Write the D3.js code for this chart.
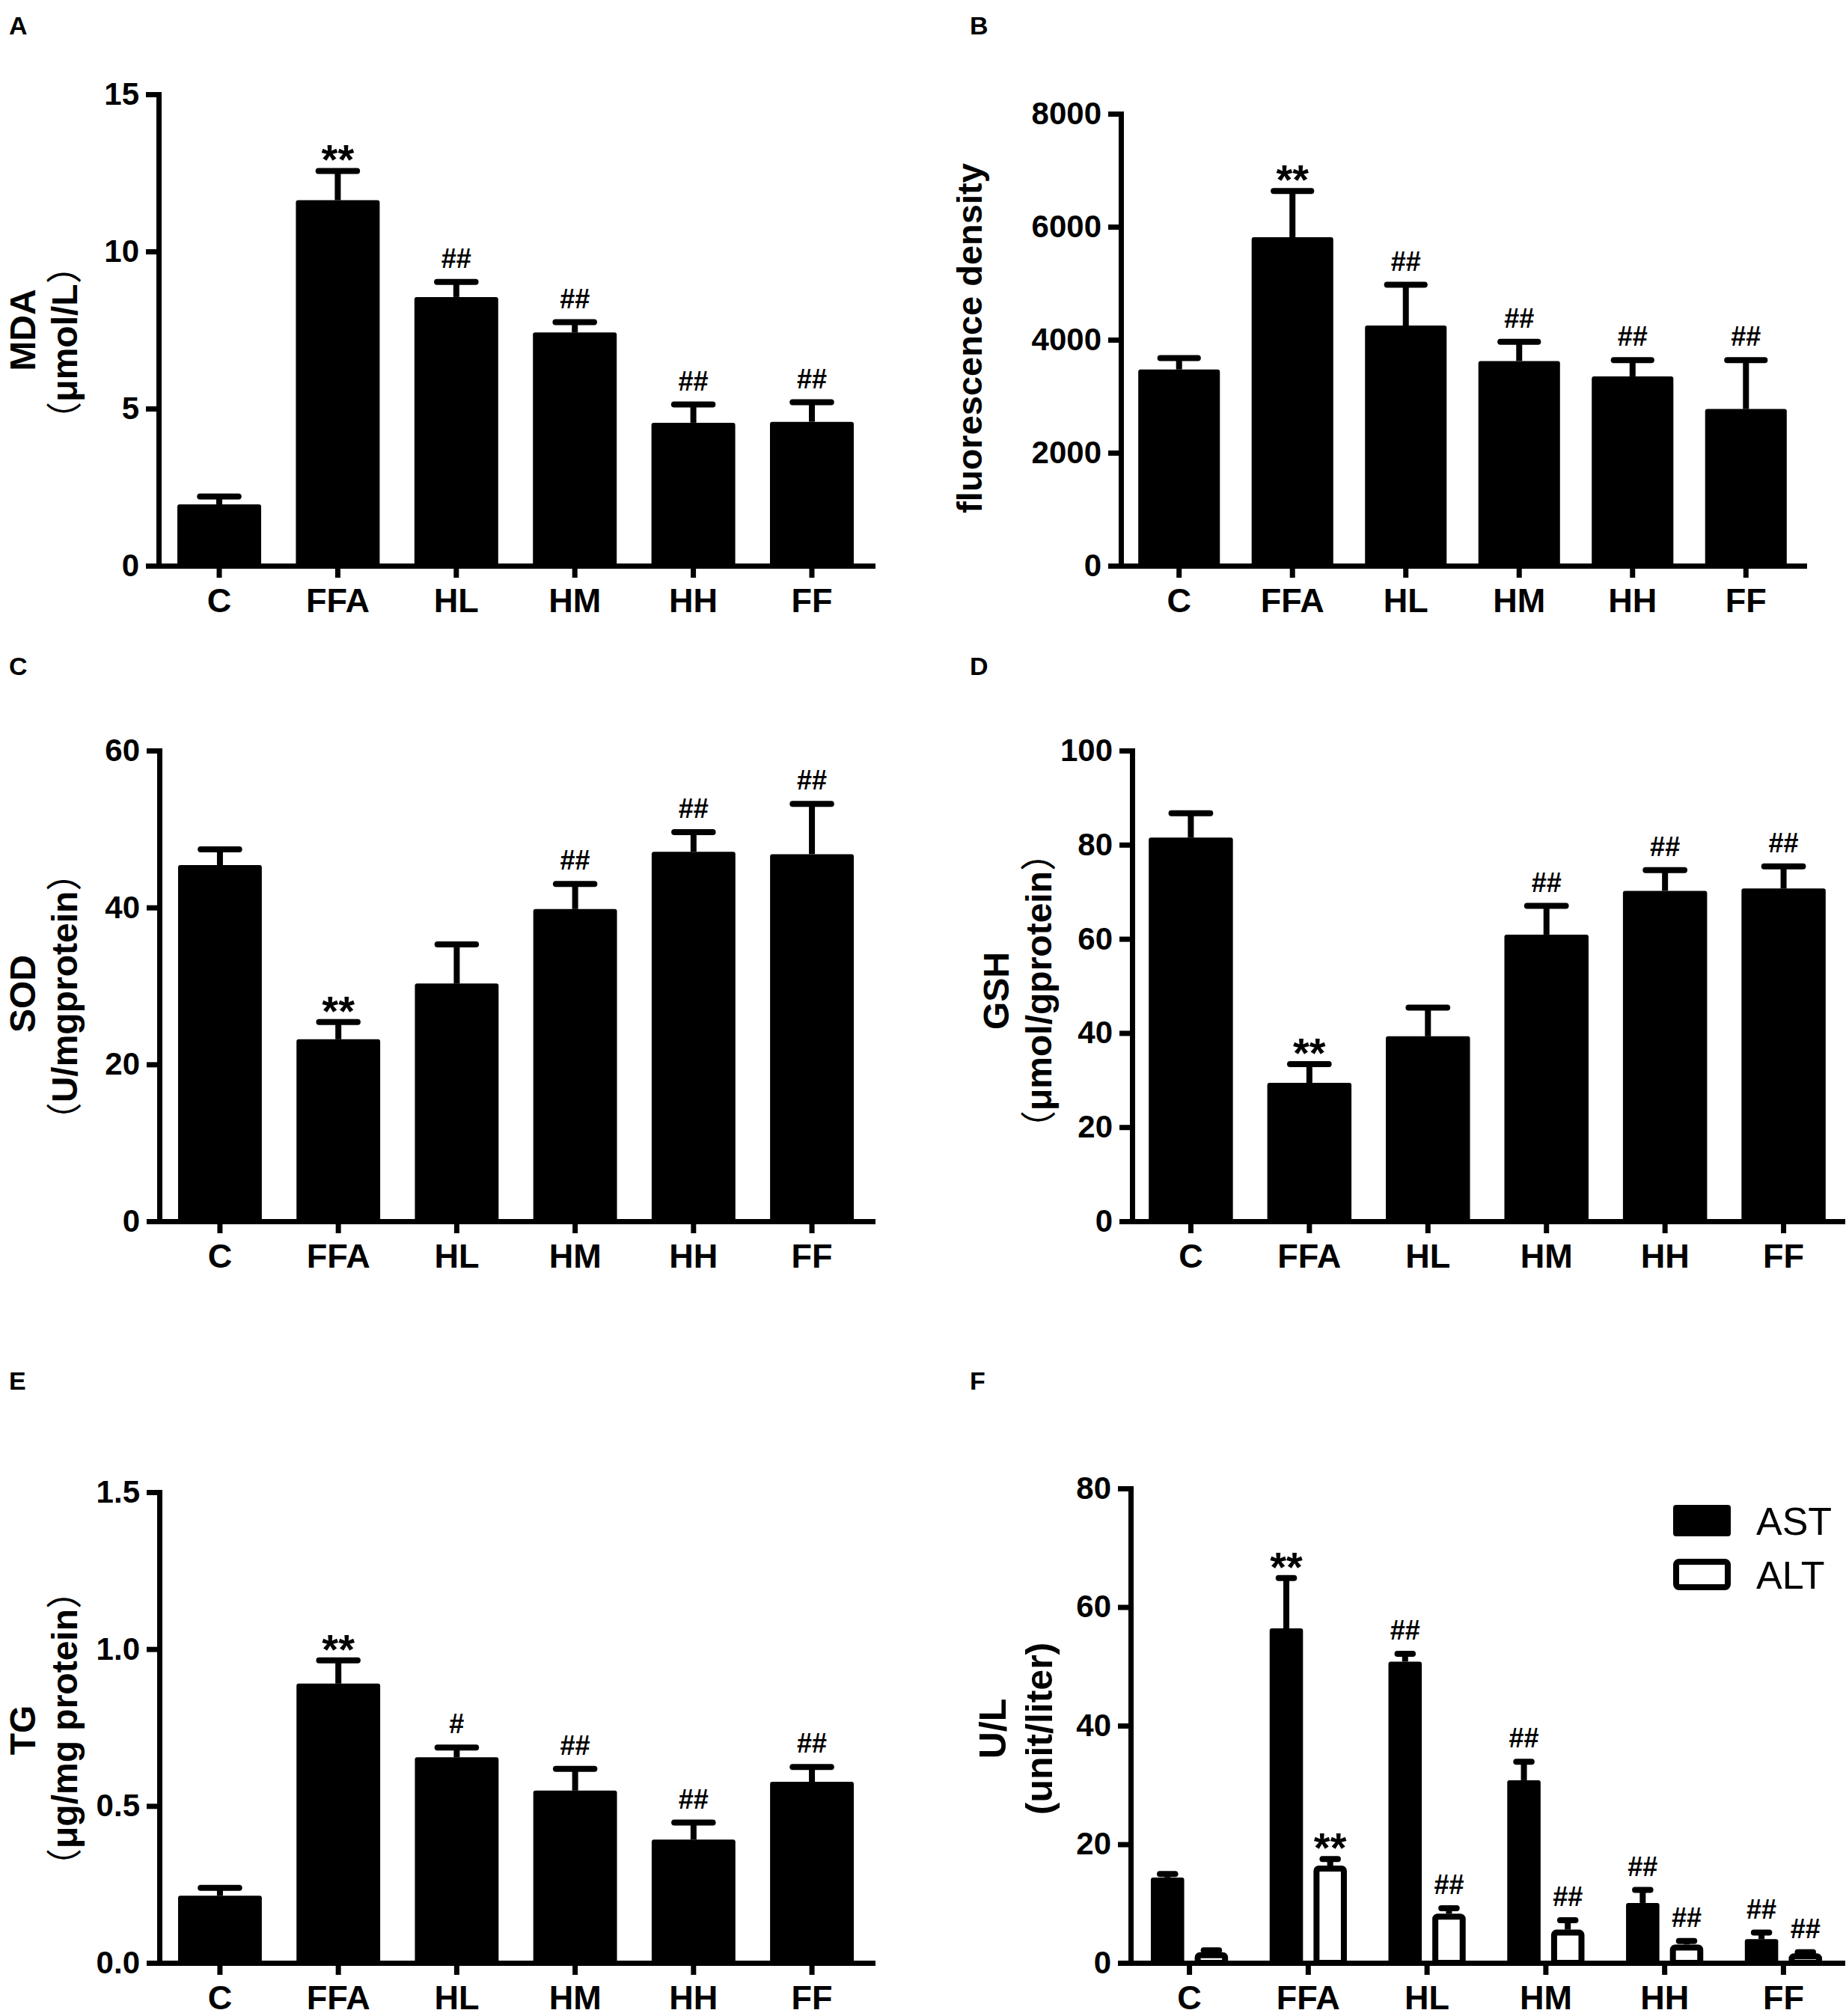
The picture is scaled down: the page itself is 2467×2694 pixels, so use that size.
<!DOCTYPE html>
<html>
<head>
<meta charset="utf-8">
<script src="https://cdn.jsdelivr.net/npm/d3@7"></script>
<style>
  body { margin: 0; background: #fff; }
  text { fill: #000; }
</style>
</head>
<body>
<svg id="fig" width="2467" height="2694"></svg>
<script>
// groups on every x axis
var groups = ['C', 'FFA', 'HL', 'HM', 'HH', 'FF'];

// A: MDA (umol/L)
var mdaMean = [1.95, 11.63, 8.55, 7.42, 4.55, 4.58];
var mdaSd = [0.25, 0.93, 0.48, 0.33, 0.58, 0.62];
var mdaSig = ['', '**', '##', '##', '##', '##'];
var mdaTicks = [0, 5, 10, 15];

// B: fluorescence density
var fluoMean = [3474, 5815, 4251, 3624, 3352, 2774];
var fluoSd = [200, 816, 721, 339, 287, 865];
var fluoSig = ['', '**', '##', '##', '##', '##'];
var fluoTicks = [0, 2000, 4000, 6000, 8000];

// C: SOD (U/mgprotein)
var sodMean = [45.4, 23.2, 30.3, 39.8, 47.1, 46.8];
var sodSd = [2.0, 2.2, 5.0, 3.2, 2.5, 6.4];
var sodSig = ['', '**', '', '##', '##', '##'];
var sodTicks = [0, 20, 40, 60];

// D: GSH (umol/gprotein)
var gshMean = [81.5, 29.4, 39.3, 60.9, 70.2, 70.7];
var gshSd = [5.2, 4.0, 6.1, 6.1, 4.4, 4.7];
var gshSig = ['', '**', '', '##', '##', '##'];
var gshTicks = [0, 20, 40, 60, 80, 100];

// E: TG (ug/mg protein)
var tgMean = [0.214, 0.890, 0.655, 0.549, 0.393, 0.577];
var tgSd = [0.025, 0.074, 0.031, 0.069, 0.054, 0.047];
var tgSig = ['', '**', '#', '##', '##', '##'];
var tgTicks = [0, 0.5, 1.0, 1.5];

// F: AST / ALT (U/L)
var astMean = [14.4, 56.4, 50.8, 30.8, 10.1, 4.0];
var astSd = [0.6, 8.5, 1.3, 3.1, 2.2, 1.1];
var astSig = ['', '**', '##', '##', '##', '##'];
var altMean = [1.8, 16.4, 8.3, 5.6, 3.1, 1.6];
var altSd = [0.3, 1.1, 0.9, 1.6, 0.6, 0.2];
var altSig = ['', '**', '##', '##', '##', '##'];
var enzTicks = [0, 20, 40, 60, 80];

var FONT = '"Liberation Sans", Arial, sans-serif';
var CJK = '"Noto Sans CJK SC", sans-serif';
var LW = 7;      // axis line width
var EW = 8;      // error bar width

var svg = d3.select('#fig');
svg.append('rect').attr('width', 2467).attr('height', 2694).attr('fill', '#fff');

function barPanel(p) {
  var x0 = d3.scaleBand()
    .domain(groups)
    .range([p.left, p.right])
    .paddingInner(p.padIn)
    .paddingOuter(p.padOut);

  var keys = p.series.map(function(s) { return s.name; });
  var x1 = d3.scaleBand()
    .domain(keys)
    .range([0, x0.bandwidth()])
    .paddingInner(keys.length > 1 ? 0.24 : 0);

  var y = d3.scaleLinear().domain([0, p.max]).range([p.bottom, p.top]);

  var g = svg.append('g');

  // bars, error bars and significance marks for each series
  p.series.forEach(function(s) {
    var rows = groups.map(function(c, i) {
      return { c: c, m: s.mean[i], sd: s.sd[i], sig: s.sig[i] };
    });
    var bw = x1.bandwidth();
    var inset = s.hollow ? EW / 2 : 0;
    var cx = function(d) { return x0(d.c) + x1(s.name) + bw / 2; };
    var sg = g.append('g');

    sg.selectAll('rect')
      .data(rows)
      .join('rect')
      .attr('x', function(d) { return x0(d.c) + x1(s.name) + inset; })
      .attr('y', function(d) { return y(d.m) + inset; })
      .attr('width', bw - 2 * inset)
      .attr('height', function(d) { return Math.max(1, y(0) - y(d.m) - inset); })
      .attr('rx', 3)
      .attr('fill', s.hollow ? '#fff' : '#000')
      .attr('stroke', s.hollow ? '#000' : 'none')
      .attr('stroke-width', EW)
      .attr('stroke-linejoin', 'round');

    sg.selectAll('line.err')
      .data(rows)
      .join('line')
      .attr('class', 'err')
      .attr('x1', cx)
      .attr('x2', cx)
      .attr('y1', function(d) { return y(d.m); })
      .attr('y2', function(d) { return y(d.m + d.sd); })
      .attr('stroke', '#000')
      .attr('stroke-width', EW);

    sg.selectAll('line.cap')
      .data(rows)
      .join('line')
      .attr('class', 'cap')
      .attr('x1', function(d) { return cx(d) - bw * 0.23; })
      .attr('x2', function(d) { return cx(d) + bw * 0.23; })
      .attr('y1', function(d) { return y(d.m + d.sd); })
      .attr('y2', function(d) { return y(d.m + d.sd); })
      .attr('stroke', '#000')
      .attr('stroke-width', EW)
      .attr('stroke-linecap', 'round');

    sg.selectAll('text.sig')
      .data(rows.filter(function(d) { return d.sig; }))
      .join('text')
      .attr('class', 'sig')
      .attr('x', cx)
      .attr('y', function(d) {
        return y(d.m + d.sd) + (d.sig === '**' ? 4 : -19);
      })
      .attr('text-anchor', 'middle')
      .attr('font-family', FONT)
      .attr('font-weight', 'bold')
      .attr('font-size', function(d) { return d.sig === '**' ? 56 : 36; })
      .text(function(d) { return d.sig; });
  });

  // y axis
  var ya = g.append('g')
    .attr('transform', 'translate(' + p.left + ',0)')
    .call(d3.axisLeft(y)
      .tickValues(p.ticks)
      .tickFormat(p.fmt || d3.format('d'))
      .tickSize(17)
      .tickPadding(9)
      .tickSizeOuter(0));

  // x axis
  var xa = g.append('g')
    .attr('transform', 'translate(0,' + p.bottom + ')')
    .call(d3.axisBottom(x0)
      .tickSize(16)
      .tickPadding(14)
      .tickSizeOuter(0));

  [ya, xa].forEach(function(a) {
    a.attr('font-family', FONT).attr('font-weight', 'bold');
    a.select('.domain')
      .attr('stroke', '#000')
      .attr('stroke-width', LW)
      .attr('stroke-linecap', 'square');
    a.selectAll('.tick line').attr('stroke', '#000').attr('stroke-width', LW);
    a.selectAll('.tick text').attr('fill', '#000');
  });
  ya.attr('font-size', 42);
  xa.attr('font-size', 45);

  // y axis title, rotated, one or two lines; full-width brackets from the CJK font
  p.title.forEach(function(t) {
    var txt = g.append('text')
      .attr('transform', 'translate(' + t.x + ',' + t.y + ') rotate(-90)')
      .attr('text-anchor', 'middle')
      .attr('font-family', FONT)
      .attr('font-weight', 'bold')
      .attr('font-size', t.size);
    t.text.split(/([（）])/).filter(function(part) { return part; }).forEach(function(part) {
      var ts = txt.append('tspan').text(part);
      if (part === '（' || part === '）') ts.attr('font-family', CJK).attr('font-weight', 'normal');
    });
  });

  // panel letter
  g.append('text')
    .attr('x', p.letter[1])
    .attr('y', p.letter[2])
    .attr('font-family', FONT)
    .attr('font-weight', 'bold')
    .attr('font-size', 34)
    .text(p.letter[0]);

  // legend (grouped panel only)
  if (p.legend) {
    p.series.forEach(function(s, i) {
      var ly = p.legend.y + i * p.legend.step;
      var inset = s.hollow ? EW / 2 : 0;
      g.append('rect')
        .attr('x', p.legend.x + inset)
        .attr('y', ly + inset)
        .attr('width', p.legend.w - 2 * inset)
        .attr('height', p.legend.h - 2 * inset)
        .attr('rx', 4)
        .attr('fill', s.hollow ? '#fff' : '#000')
        .attr('stroke', s.hollow ? '#000' : 'none')
        .attr('stroke-width', EW);
      g.append('text')
        .attr('x', p.legend.x + p.legend.w + 34)
        .attr('y', ly + p.legend.h - 2)
        .attr('font-family', FONT)
        .attr('font-size', 52)
        .text(s.name);
    });
  }
}

barPanel({
  left: 212, right: 1166, top: 126, bottom: 756, padIn: 0.293, padOut: 0.158,
  max: 15, ticks: mdaTicks,
  series: [{ name: 'MDA', mean: mdaMean, sd: mdaSd, sig: mdaSig }],
  title: [
    { text: 'MDA', x: 47, y: 441, size: 48 },
    { text: '（μmol/L）', x: 103, y: 458, size: 48 }
  ],
  letter: ['A', 12, 46]
});

barPanel({
  left: 1498, right: 2411, top: 152, bottom: 756, padIn: 0.28, padOut: 0.153,
  max: 8000, ticks: fluoTicks,
  series: [{ name: 'fluo', mean: fluoMean, sd: fluoSd, sig: fluoSig }],
  title: [{ text: 'fluorescence density', x: 1312, y: 452, size: 47 }],
  letter: ['B', 1296, 46]
});

barPanel({
  left: 213, right: 1166, top: 1003, bottom: 1632, padIn: 0.293, padOut: 0.158,
  max: 60, ticks: sodTicks,
  series: [{ name: 'SOD', mean: sodMean, sd: sodSd, sig: sodSig }],
  title: [
    { text: 'SOD', x: 47, y: 1328, size: 48 },
    { text: '（U/mgprotein）', x: 103, y: 1332, size: 48 }
  ],
  letter: ['C', 12, 902]
});

barPanel({
  left: 1513, right: 2462, top: 1003, bottom: 1632, padIn: 0.29, padOut: 0.14,
  max: 100, ticks: gshTicks,
  series: [{ name: 'GSH', mean: gshMean, sd: gshSd, sig: gshSig }],
  title: [
    { text: 'GSH', x: 1348, y: 1324, size: 48 },
    { text: '（μmol/gprotein）', x: 1405, y: 1324, size: 48 }
  ],
  letter: ['D', 1296, 902]
});

barPanel({
  left: 213, right: 1166, top: 1994, bottom: 2623, padIn: 0.293, padOut: 0.158,
  max: 1.5, ticks: tgTicks, fmt: d3.format('.1f'),
  series: [{ name: 'TG', mean: tgMean, sd: tgSd, sig: tgSig }],
  title: [
    { text: 'TG', x: 47, y: 2312, size: 48 },
    { text: '（μg/mg protein）', x: 103, y: 2310, size: 48 }
  ],
  letter: ['E', 12, 1857]
});

barPanel({
  left: 1511, right: 2462, top: 1989, bottom: 2623, padIn: 0.35, padOut: 0.17,
  max: 80, ticks: enzTicks,
  series: [
    { name: 'AST', mean: astMean, sd: astSd, sig: astSig },
    { name: 'ALT', mean: altMean, sd: altSd, sig: altSig, hollow: true }
  ],
  title: [
    { text: 'U/L', x: 1344, y: 2310, size: 50 },
    { text: '(unit/liter)', x: 1406, y: 2310, size: 50 }
  ],
  letter: ['F', 1296, 1857],
  legend: { x: 2236, y: 2011, w: 77, h: 42, step: 72 }
});
</script>
</body>
</html>
